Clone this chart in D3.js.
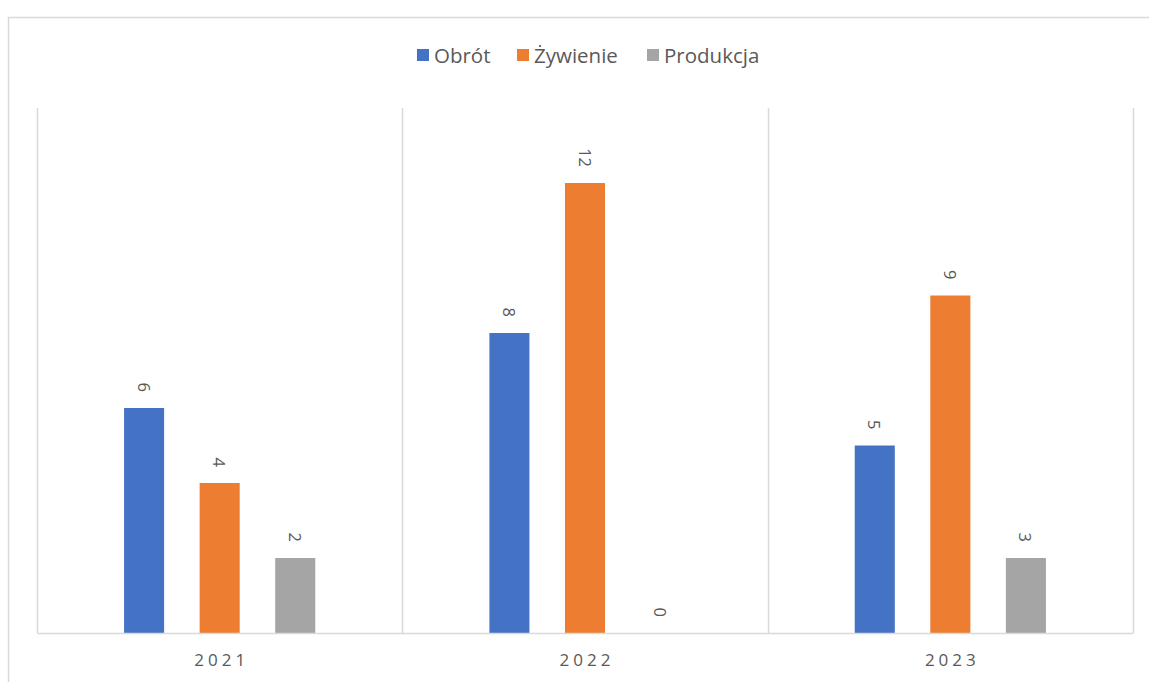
<!DOCTYPE html>
<html>
<head>
<meta charset="utf-8">
<script src="https://cdn.jsdelivr.net/npm/d3@7"></script>
<style>
  body { margin: 0; background: #fff; }
  text { font-family: "Open Sans", "Noto Sans", sans-serif; fill: #595959; }
</style>
</head>
<body>
<script>
const years = ['2021', '2022', '2023'];
const series = ['Obrót', 'Żywienie', 'Produkcja'];
const colors = ['#4472c4', '#ed7d31', '#a5a5a5'];
// bar heights as drawn in the picture
const values = {
    'Obrót': [6, 8, 5],
    'Żywienie': [4, 12, 9],
    'Produkcja': [2, 0, 2]
};
// data labels as printed in the picture
const labels = {
    'Obrót': ['6', '8', '5'],
    'Żywienie': ['4', '12', '9'],
    'Produkcja': ['2', '0', '3']
};

const W = 1149, H = 682;
const margin = {top: 108, right: 16, bottom: 49, left: 37};

const svg = d3.select('body').append('svg')
    .attr('width', W)
    .attr('height', H);

// chart border
svg.append('rect')
    .attr('x', 8.5).attr('y', 17.5)
    .attr('width', W).attr('height', H)
    .attr('fill', 'none')
    .attr('stroke', '#d9d9d9')
    .attr('stroke-width', 1.5);

const x0 = d3.scaleBand()
    .domain(years)
    .range([margin.left, W - margin.right])
    .padding(0);

const x1 = d3.scaleBand()
    .domain(series)
    .range([0, x0.bandwidth()])
    .paddingInner(0.47)
    .paddingOuter(1.152);

const y = d3.scaleLinear()
    .domain([0, 14])
    .range([H - margin.bottom, margin.top]);

// category separators
const edges = years.map(d => x0(d)).concat([x0.range()[1]]);
svg.append('g').selectAll('line')
    .data(edges)
    .enter().append('line')
    .attr('x1', d => Math.round(d) + 0.5)
    .attr('x2', d => Math.round(d) + 0.5)
    .attr('y1', y(14))
    .attr('y2', y(0))
    .attr('stroke', '#d9d9d9')
    .attr('stroke-width', 1.5);

// bars
const groups = svg.append('g').selectAll('g')
    .data(years)
    .enter().append('g')
    .attr('transform', d => 'translate(' + x0(d) + ',0)');

const rows = (d, i) => series.map((s, k) => ({s: s, k: k, v: values[s][i], t: labels[s][i]}));

groups.selectAll('rect')
    .data(rows)
    .enter().append('rect')
    .attr('x', d => x1(d.s))
    .attr('width', x1.bandwidth())
    .attr('y', d => y(d.v))
    .attr('height', d => y(0) - y(d.v))
    .attr('fill', d => colors[d.k]);

groups.selectAll('text')
    .data(rows)
    .enter().append('text')
    .attr('transform', d => 'translate(' + (x1(d.s) + x1.bandwidth() / 2) + ',' + (y(d.v) - 16) + ') rotate(90)')
    .attr('text-anchor', 'end')
    .attr('dominant-baseline', 'central')
    .style('font-size', '16.5px')
    .text(d => d.t);

// x axis
const xAxis = svg.append('g')
    .attr('transform', 'translate(0,' + y(0) + ')')
    .call(d3.axisBottom(x0).tickSize(0).tickPadding(21));
xAxis.select('.domain').attr('stroke', '#d9d9d9').attr('stroke-width', 1.5);
xAxis.selectAll('text')
    .style('font-size', '17px')
    .style('letter-spacing', '4px')
    .attr('dx', 2)
    .attr('fill', '#595959');

// legend
const legendX = [417, 517, 647];
const legend = svg.append('g').selectAll('g')
    .data(series)
    .enter().append('g')
    .attr('transform', (d, i) => 'translate(' + legendX[i] + ',49)');
legend.append('rect')
    .attr('width', 12).attr('height', 12)
    .attr('fill', (d, i) => colors[i]);
legend.append('text')
    .attr('x', 17).attr('y', 6)
    .attr('dominant-baseline', 'central')
    .style('font-size', '20.5px')
    .text(d => d);
</script>
</body>
</html>
